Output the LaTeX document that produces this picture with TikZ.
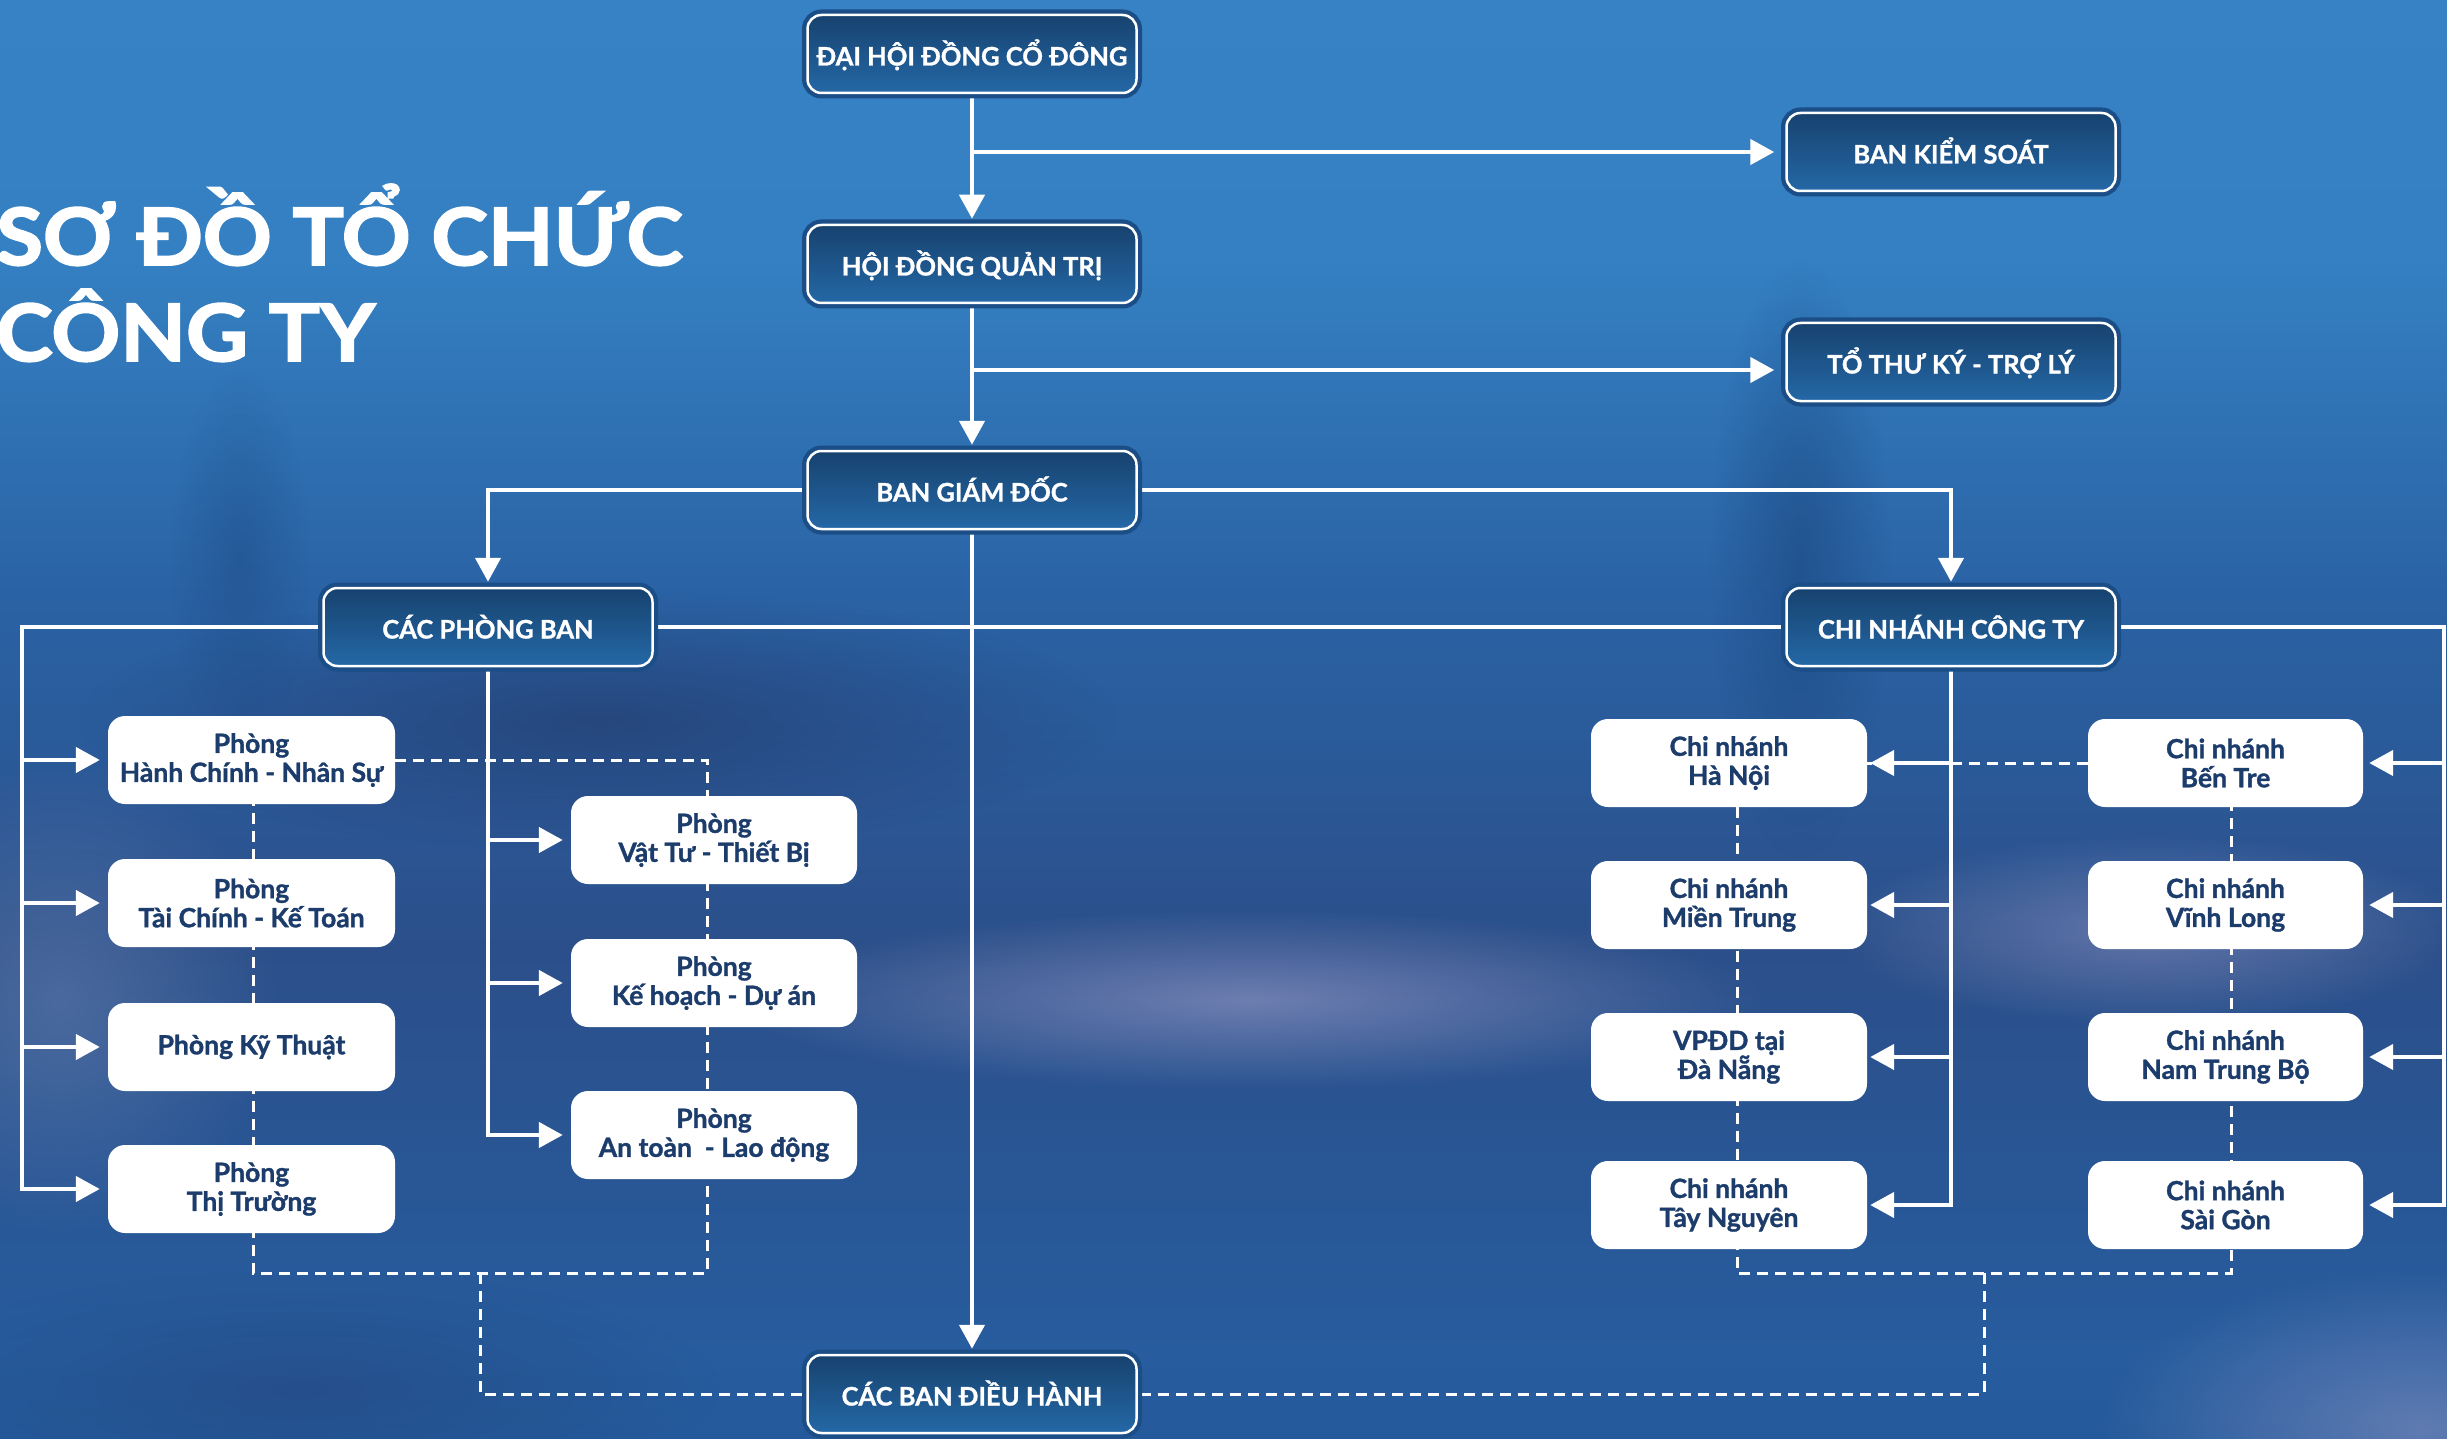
\documentclass[tikz,border=0pt]{standalone}
\usepackage{fontspec}
\setmainfont{Lato}
\newfontfamily\hvy{Lato}[BoldFeatures={FakeBold=1.2}]
\newfontfamily\titlefont{Lato}[FakeStretch=1.08, BoldFeatures={FakeBold=2.4}]
\usetikzlibrary{arrows.meta,fadings,calc}
\pgfdeclarelayer{bg}\pgfdeclarelayer{lines}\pgfsetlayers{bg,lines,main}
\definecolor{dbtop}{HTML}{17426F}
\definecolor{dbbot}{HTML}{2468A6}
\definecolor{dbframe}{HTML}{1B4D86}
\definecolor{navy}{HTML}{1C3C6C}
\definecolor{bgA}{HTML}{3B87C9}
\definecolor{bgB}{HTML}{3480C2}
\definecolor{bgC}{HTML}{2A62A4}
\definecolor{bgD}{HTML}{2B4F8A}
\definecolor{bgE}{HTML}{275C9E}
\definecolor{bgF}{HTML}{1B5494}
\definecolor{bgG}{HTML}{1A4A85}
\definecolor{lilac}{HTML}{9A9CC8}
\definecolor{greyb}{HTML}{7A90B8}
\definecolor{darkp}{HTML}{24396A}
\definecolor{darkb}{HTML}{1B4780}
\pgfdeclareverticalshading{bgshade}{100bp}{color(0bp)=(bgG); color(15bp)=(bgF); color(28bp)=(bgE); color(42bp)=(bgD); color(54bp)=(bgC); color(66bp)=(bgB); color(100bp)=(bgA)}
\tikzfading[name=fuzzy, inner color=transparent!0, outer color=transparent!100]
\begin{document}
\begin{tikzpicture}[x=1pt,y=-1pt,
  dbox/.style={rectangle, rounded corners=14pt, minimum width=329pt, minimum height=78pt, inner sep=0pt, draw=white, line width=2.5pt, top color=dbtop, bottom color=dbbot, preaction={draw=dbframe, line width=11pt}, text=white, font=\hvy\bfseries\fontsize{25.5}{30}\selectfont, text height=23pt, text depth=0pt},
  wbox/.style={rectangle, rounded corners=17pt, minimum height=88pt, inner sep=0pt, fill=white, text=navy, font=\hvy\bfseries\fontsize{26.5}{29}\selectfont, align=center},
  conn/.style={draw=white, line width=4.5pt},
  arr/.style={conn, -{Triangle[length=24pt,width=25pt]}},
  dsh/.style={draw=white, line width=3pt, dash pattern=on 11pt off 7pt},
  ttl/.style={anchor=base west, inner sep=0pt, text=white, font=\titlefont\bfseries\fontsize{79}{90}\selectfont}
]
\useasboundingbox (0,0) rectangle (2447,1439);
\begin{pgfonlayer}{bg}
  \fill[shading=bgshade] (0,0) rectangle (2447,1439);
  \fill[darkp, opacity=0.6, path fading=fuzzy] (600,720) ellipse (520 and 130);
  \fill[darkb, opacity=0.6, path fading=fuzzy] (1800,560) ellipse (90 and 300);
  \fill[darkb, opacity=0.4, path fading=fuzzy] (240,560) ellipse (70 and 190);
  \fill[lilac, opacity=0.6, path fading=fuzzy] (1250,1000) ellipse (520 and 90);
  \fill[lilac, opacity=0.5, path fading=fuzzy] (2150,930) ellipse (320 and 95);
  \fill[lilac, opacity=0.5, path fading=fuzzy] (2420,1430) ellipse (320 and 160);
  \fill[greyb, opacity=0.4, path fading=fuzzy] (60,1000) ellipse (220 and 240);
  \fill[darkp, opacity=0.35, path fading=fuzzy] (300,1390) ellipse (420 and 120);
\end{pgfonlayer}

% title
\node[ttl] (t1) at (-4,265) {SƠ ĐỒ TỔ CHỨC};
\node[ttl] (t2) at (-4,361) {CÔNG TY};

% dark boxes
\node[dbox] (dh)   at (972,54)   {ĐẠI HỘI ĐỒNG CỔ ĐÔNG};
\node[dbox] (bks)  at (1951,152) {BAN KIỂM SOÁT};
\node[dbox] (hdqt) at (972,264)  {HỘI ĐỒNG QUẢN TRỊ};
\node[dbox] (ttk)  at (1951,362) {TỔ THƯ KÝ - TRỢ LÝ};
\node[dbox] (bgd)  at (972,490)  {BAN GIÁM ĐỐC};
\node[dbox] (cpb)  at (488,627)  {CÁC PHÒNG BAN};
\node[dbox] (cnct) at (1951,627) {CHI NHÁNH CÔNG TY};
\node[dbox] (cbdh) at (972,1394) {CÁC BAN ĐIỀU HÀNH};

% white boxes
\node[wbox, minimum width=287pt] (p1) at (251.5,760)  {Phòng\\Hành Chính - Nhân Sự};
\node[wbox, minimum width=287pt] (p2) at (251.5,903)  {Phòng\\Tài Chính - Kế Toán};
\node[wbox, minimum width=287pt] (p3) at (251.5,1047) {Phòng Kỹ Thuật};
\node[wbox, minimum width=287pt] (p4) at (251.5,1189) {Phòng\\Thị Trường};
\node[wbox, minimum width=286pt] (p5) at (714,840)  {Phòng\\Vật Tư - Thiết Bị};
\node[wbox, minimum width=286pt] (p6) at (714,983)  {Phòng\\Kế hoạch - Dự án};
\node[wbox, minimum width=286pt] (p7) at (714,1135) {Phòng\\An toàn\ \ - Lao động};
\node[wbox, minimum width=276pt] (c1) at (1729,763)  {Chi nhánh\\Hà Nội};
\node[wbox, minimum width=276pt] (c2) at (1729,905)  {Chi nhánh\\Miền Trung};
\node[wbox, minimum width=276pt] (c3) at (1729,1057) {VPĐD tại\\Đà Nẵng};
\node[wbox, minimum width=276pt] (c4) at (1729,1205) {Chi nhánh\\Tây Nguyên};
\node[wbox, minimum width=275pt] (c5) at (2225.5,763)  {Chi nhánh\\Bến Tre};
\node[wbox, minimum width=275pt] (c6) at (2225.5,905)  {Chi nhánh\\Vĩnh Long};
\node[wbox, minimum width=275pt] (c7) at (2225.5,1057) {Chi nhánh\\Nam Trung Bộ};
\node[wbox, minimum width=275pt] (c8) at (2225.5,1205) {Chi nhánh\\Sài Gòn};

\coordinate (lx) at (22,0);
\coordinate (rx) at (2444,0);
\coordinate (ttkin) at ($(ttk.west)+(0,8)$);
\coordinate (f1r) at (707,1273);
\coordinate (f1l) at (253,1273);
\coordinate (f1m) at (480,1273);
\coordinate (f2l) at (1737,1273);
\coordinate (f2r) at (2231,1273);
\coordinate (f2m) at (1984,1273);

\begin{pgfonlayer}{lines}
  % dashed links
  \draw[dsh] (p1.east) -| (f1r) -- (f1l) -- (f1l |- p1.south);
  \draw[dsh] (f1m) |- (cbdh.west);
  \draw[dsh] (c5.west) -- (c1.east);
  \draw[dsh] (f2l |- c1.south) -- (f2l) -- (f2r) -- (f2r |- c5.south);
  \draw[dsh] (f2m) |- (cbdh.east);
  % solid links
  \draw[arr, shorten >=5pt] (dh.south) -- (hdqt.north);
  \draw[arr, shorten >=11pt] (dh.south |- bks.west) -- (bks.west);
  \draw[arr, shorten >=5pt] (hdqt.south) -- (bgd.north);
  \draw[arr, shorten >=11pt] (hdqt.south |- ttkin) -- (ttkin);
  \draw[arr, shorten >=5pt] (bgd.west) -| (cpb.north);
  \draw[arr, shorten >=5pt] (bgd.east) -| (cnct.north);
  \draw[arr, shorten >=5pt] (bgd.south) -- (cbdh.north);
  \draw[conn] (cpb.east) -- (cnct.west);
  \draw[arr, shorten >=8pt] (cpb.west) -| (lx |- p4.west) -- (p4.west);
  \foreach \n in {p1,p2,p3}
    \draw[arr, shorten >=8pt] (lx |- \n.west) -- (\n.west);
  \draw[arr, shorten >=8pt] (cpb.south) |- (p7.west);
  \foreach \n in {p5,p6}
    \draw[arr, shorten >=8pt] (cpb.south |- \n.west) -- (\n.west);
  \draw[arr, shorten >=3pt] (cnct.south) |- (c4.east);
  \foreach \n in {c1,c2,c3}
    \draw[arr, shorten >=3pt] (cnct.south |- \n.east) -- (\n.east);
  \draw[arr, shorten >=6pt] (cnct.east) -| (rx |- c8.east) -- (c8.east);
  \foreach \n in {c5,c6,c7}
    \draw[arr, shorten >=6pt] (rx |- \n.east) -- (\n.east);
\end{pgfonlayer}
\end{tikzpicture}
\end{document}
